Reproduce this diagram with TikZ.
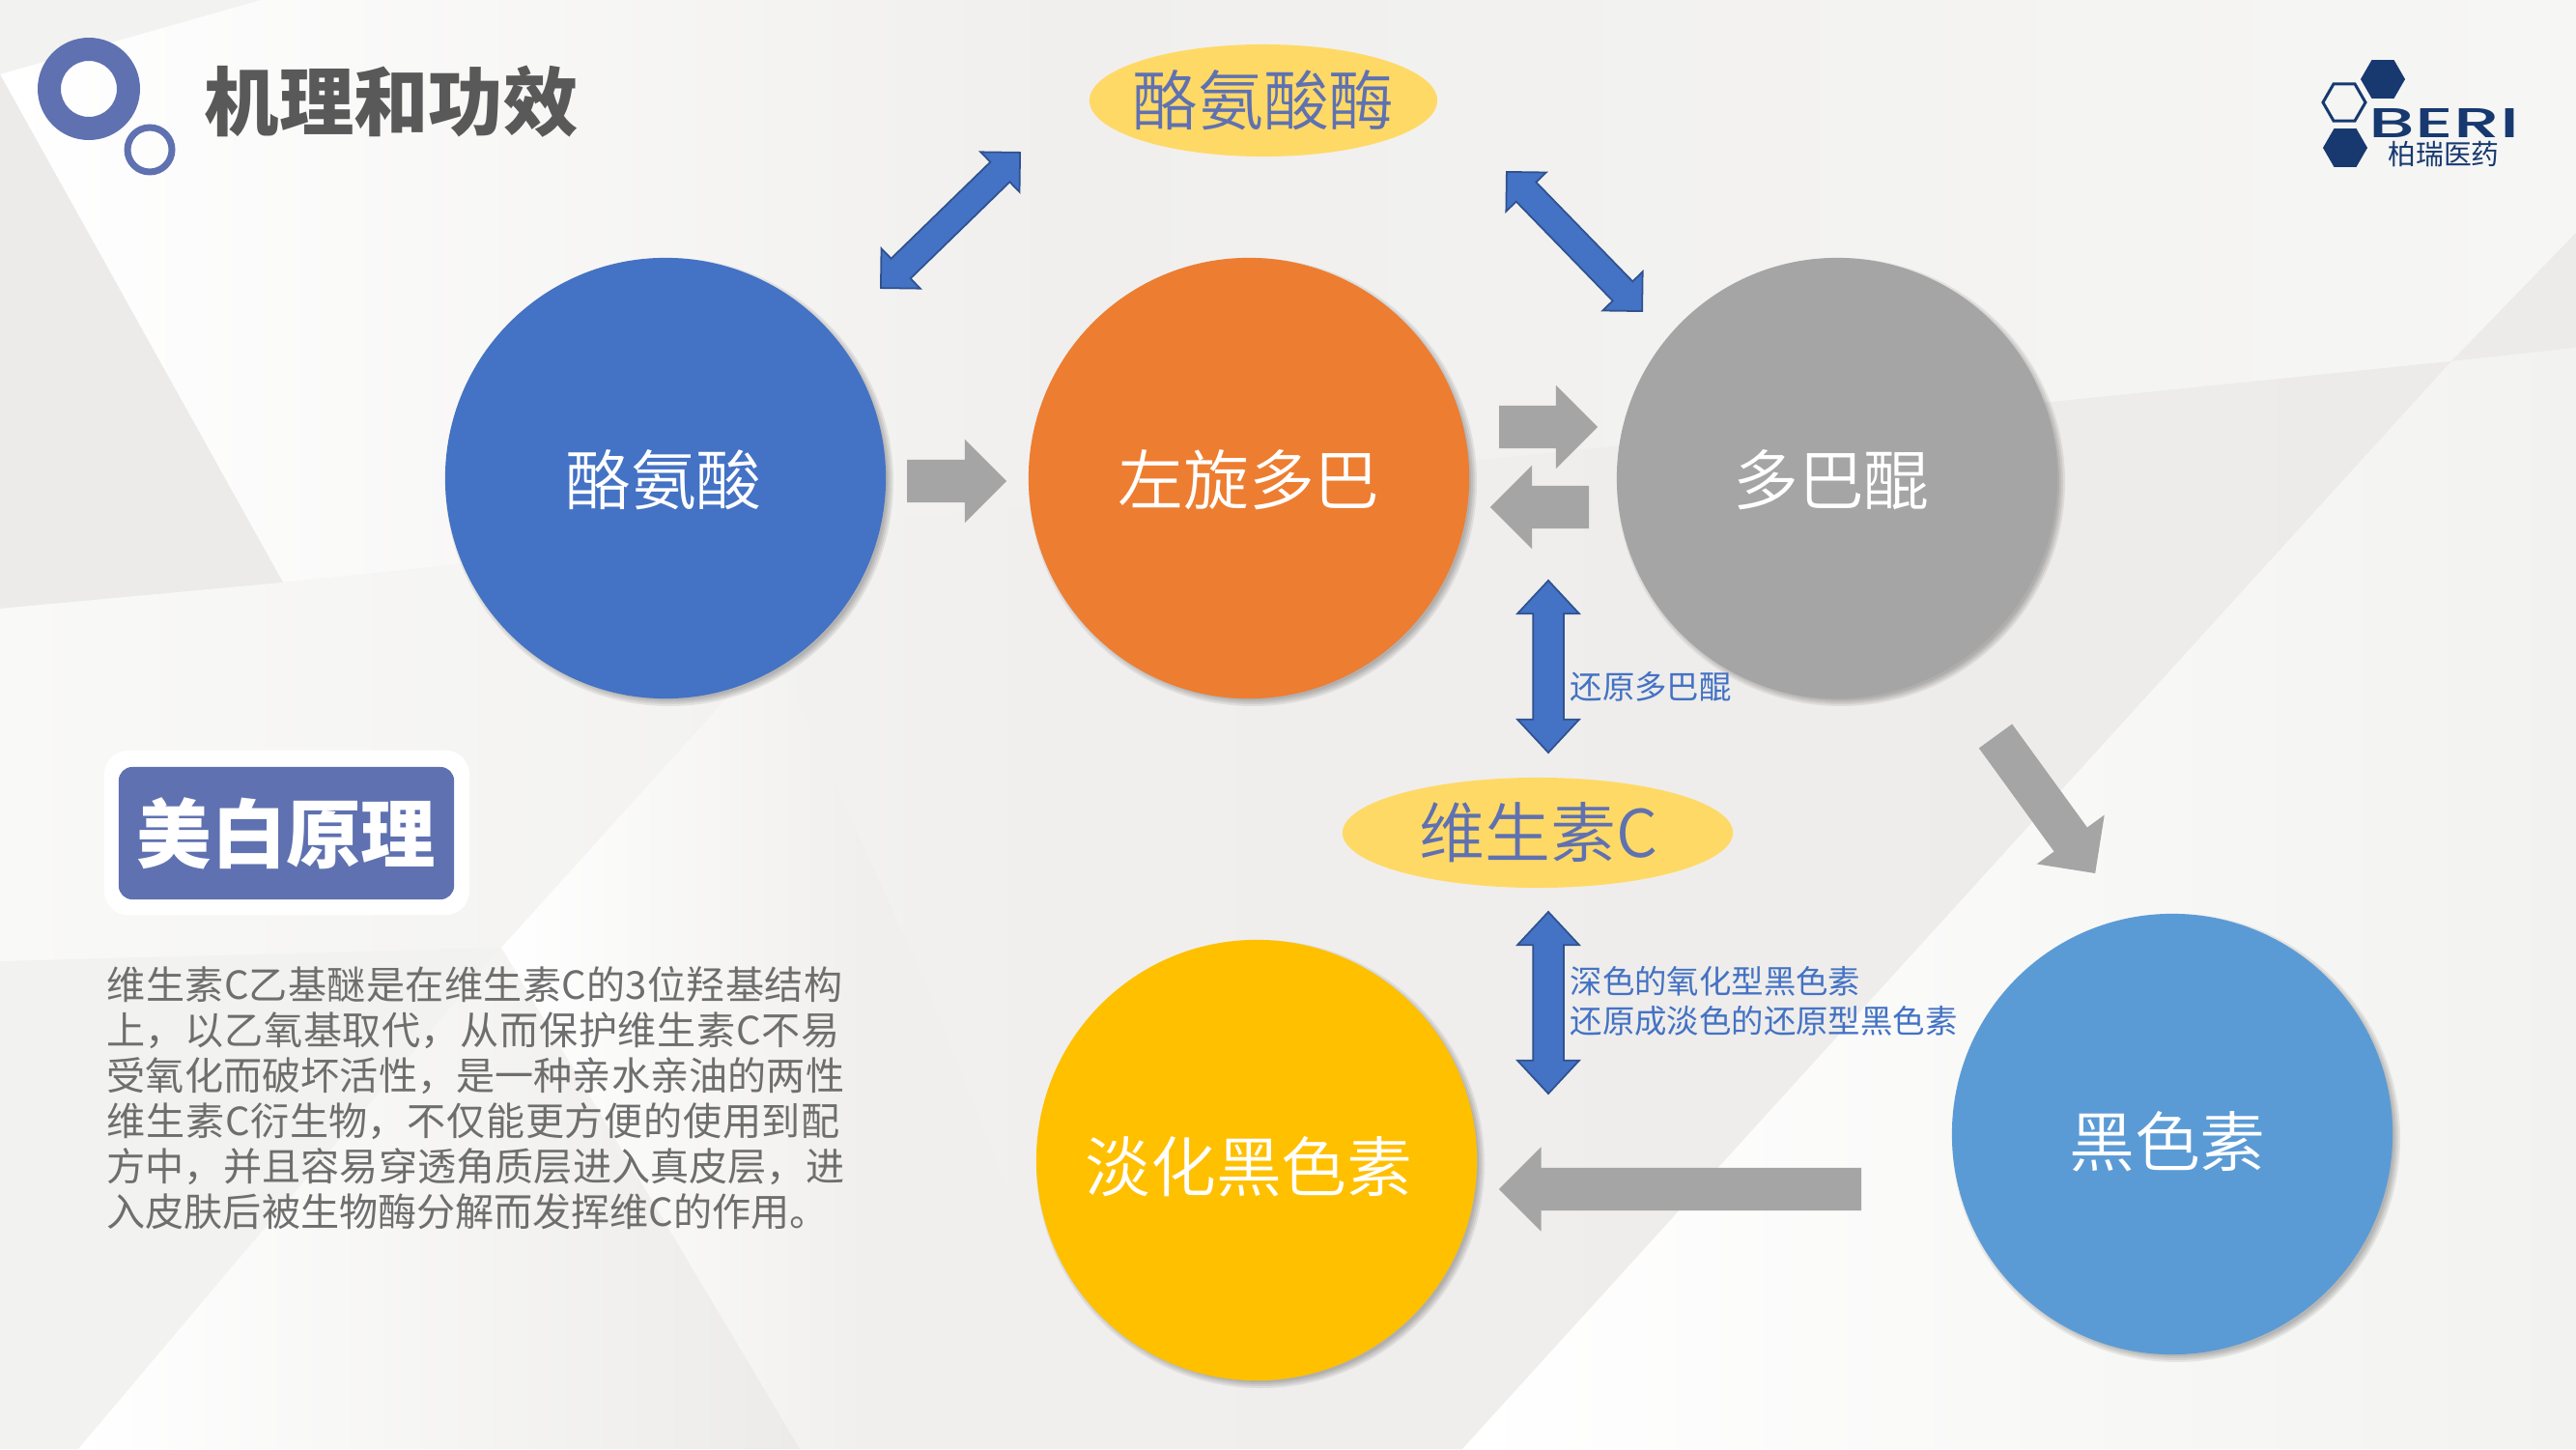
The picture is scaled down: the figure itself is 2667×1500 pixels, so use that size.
\documentclass[tikz,border=0pt]{standalone}
\usepackage{fontspec}
\usepackage{graphicx}
\usetikzlibrary{shapes.arrows,shapes.geometric}
\setmainfont{Noto Sans CJK SC}
\newfontfamily\cjkblack{Noto Sans CJK SC Black}
\newfontfamily\cjkthin{Noto Sans CJK SC DemiLight}
\newfontfamily\logofont{Poppins Medium}
\definecolor{ringblue}{HTML}{5F71B0}
\definecolor{arrowblue}{HTML}{4472C4}
\definecolor{arrowedge}{HTML}{2F528F}
\definecolor{arrowgray}{HTML}{A5A5A5}
\definecolor{ellipseyellow}{HTML}{FFD966}
\definecolor{navy}{HTML}{17396F}
\definecolor{bodygray}{HTML}{6E6E6E}
\definecolor{titlegray}{HTML}{595959}
\definecolor{bgA}{HTML}{F0EFED}
\definecolor{bgB}{HTML}{ECEBE9}
\definecolor{bgC}{HTML}{F6F6F5}
\definecolor{bgD}{HTML}{F9F9F8}
\definecolor{bgE}{HTML}{F2F2F0}
\pgfdeclarehorizontalshading{regionc}{100bp}{color(0bp)=(white); color(25bp)=(white); color(55bp)=(bgA); color(100bp)=(bgA)}
\tikzset{
  bigtext/.style={font=\cjkthin\fontsize{19.3}{23}\selectfont,inner sep=0pt},
  disc/.style={circle,minimum size=4.56cm,inner sep=0pt,outer sep=0pt},
  oval/.style={ellipse,inner sep=0pt,outer sep=0pt,fill=ellipseyellow},
  grayarrow/.style n args={3}{single arrow,fill=arrowgray,draw=none,inner sep=0pt,outer sep=0pt,
     minimum height=#1cm,text height=#2cm,text depth=0pt,text width=0pt,
     single arrow head extend=#3cm,single arrow tip angle=90,anchor=tail},
  bluearrow/.style n args={4}{double arrow,fill=arrowblue,draw=arrowedge,line width=0.5pt,inner sep=0pt,outer sep=0pt,
     minimum height=#1cm,text height=#2cm,text depth=0pt,text width=0pt,
     double arrow head extend=#3cm,double arrow tip angle=#4,anchor=center},
  bluelabel/.style={text=arrowblue,font=\fontsize{9.5}{11.6}\selectfont,inner sep=0pt,anchor=west,align=left},
  hex/.style={regular polygon,regular polygon sides=6,minimum size=0.46cm,inner sep=0pt,outer sep=0pt},
  shadowlayer/.style={fill=black,opacity=0.07,draw=none},
}
\newcommand{\discshadow}[2]{%
  \foreach \r in {232,230,228,226}{\fill[shadowlayer] (#1+4,#2+4) circle [radius=\r];}}
\XeTeXlinebreaklocale "zh"
\XeTeXlinebreakskip=0pt plus 3pt
\begin{document}
\begin{tikzpicture}[x=0.01cm,y=-0.01cm]
\useasboundingbox (0,0) rectangle (2667,1500);
% background facets
\fill[bgE] (0,0) rectangle (2667,1500);
\shade[left color=white,right color=bgA]
   (0,77) -- (270,0) -- (1100,0) -- (1100,520) -- (293,603) -- cycle;
\shade[left color=bgA,right color=bgC]
   (1100,0) -- (2667,0) -- (2667,241) -- (2538,374) -- (1100,520) -- cycle;
\fill[bgB] (0,77) -- (293,603) -- (0,630) -- cycle;
\shade[left color=bgD,right color=bgA]
   (0,630) -- (293,603) -- (1100,520) -- (1100,1500) -- (828,1500) -- (519,981) -- (0,995) -- cycle;
\shade[left color=bgA,right color=bgB]
   (1100,520) -- (2538,374) -- (1514,1500) -- (1100,1500) -- cycle;
\shade[shading=regionc]
   (519,981) -- (800,670) -- (950,1000) -- (1150,1500) -- (828,1500) -- cycle;
\shade[left color=white,right color=bgB]
   (81,1500) -- (519,981) -- (828,1500) -- cycle;
\fill[bgB] (2538,374) -- (2667,241) -- (2667,360) -- cycle;
\shade[left color=white,middle color=white,right color=bgE]
   (2538,374) -- (2667,360) -- (2667,1500) -- (1514,1500) -- cycle;
% top ellipse
\node[oval,minimum width=3.6cm,minimum height=1.16cm] (enzyme) at (1308,104) {};
\node[bigtext,text=ringblue] (enzymet) at (1308,104) {酪氨酸酶};
% discs
\discshadow{689}{495}\discshadow{1293}{495}\discshadow{1902}{495}\discshadow{2249}{1174}\discshadow{1301}{1201}
\node[disc,fill=arrowblue] (tyr) at (689,495) {};
\node[disc,fill={rgb,255:red,237;green,125;blue,49}] (dopa) at (1293,495) {};
\node[disc,fill=arrowgray] (quin) at (1902,495) {};
\node[disc,fill={rgb,255:red,91;green,155;blue,213}] (mel) at (2249,1174) {};
\node[disc,fill={rgb,255:red,255;green,192;blue,0}] (light) at (1301,1201) {};
\node[bigtext,text=white] (tyrt) at (687,497) {酪氨酸};
\node[bigtext,text=white] (dopat) at (1293,497) {左旋多巴};
\node[bigtext,text=white] (quint) at (1896,497) {多巴醌};
\node[bigtext,text=white] (melt) at (2244,1182) {黑色素};
\node[bigtext,text=white] (lightt) at (1293,1208) {淡化黑色素};
\node[oval,minimum width=4.04cm,minimum height=1.14cm] (vitc) at (1592,862) {};
\node[bigtext,text=ringblue] (vitct) at (1593,862) {维生素C};
% gray block arrows
\node[grayarrow={1.03}{0.43}{0.21}] (a1) at (939,498) {};
\node[grayarrow={1.02}{0.43}{0.21}] (a2) at (1552,442) {};
\node[grayarrow={1.02}{0.43}{0.21},rotate=180] (a3) at (1645,525) {};
\node[grayarrow={1.754}{0.41}{0.22},rotate=-54] (a4) at (2066,762) {};
\node[grayarrow={3.75}{0.43}{0.215},rotate=180] (a5) at (1927,1231) {};
% blue double arrows
\node[bluearrow={2.01}{0.27}{0.145}{90},rotate=44.2] (d1) at (984,228) {};
\node[bluearrow={2.01}{0.27}{0.145}{90},rotate=-45.8] (d2) at (1630,250) {};
\node[bluearrow={1.78}{0.30}{0.16}{86},rotate=90] (d3) at (1603,690) {};
\node[bluearrow={1.88}{0.30}{0.16}{86},rotate=90] (d4) at (1603,1038) {};
\node[bluelabel] (l1) at (1625,711) {还原多巴醌};
\node[bluelabel] (l2) at (1625,1036) {深色的氧化型黑色素\\还原成淡色的还原型黑色素};
% title
\fill[ringblue,even odd rule] (92,92) circle [radius=53] (92,92) circle [radius=29];
\fill[ringblue,even odd rule] (155,155) circle [radius=26.5] (155,155) circle [radius=19.5];
\node[font=\cjkblack\fontsize{22}{26}\selectfont,text=titlegray,inner sep=0pt,anchor=west] (title) at (211,105) {机理和功效};
% badge
\node[rounded corners=0.25cm,fill=white,minimum width=3.78cm,minimum height=1.705cm,inner sep=0pt] (badgeouter) at (297,862) {};
\node[rounded corners=0.14cm,fill=ringblue,minimum width=3.47cm,minimum height=1.37cm,inner sep=0pt,text=white,font=\cjkblack\fontsize{22}{26}\selectfont] (badge) at (296.5,862.5) {美白原理};
% body
\node[text=bodygray,font=\fontsize{11.4}{13.35}\selectfont,inner sep=0pt,anchor=north west,text width=7.64cm] (body) at (110,1000) {%
\parindent=0pt\parfillskip=0pt
维生素C乙基醚是在维生素C的3位羟基结构\par
上，以乙氧基取代，从而保护维生素C不易\par
受氧化而破坏活性，是一种亲水亲油的两性\par
维生素C衍生物，不仅能更方便的使用到配\par
方中，并且容易穿透角质层进入真皮层，进\par
\parfillskip=0pt plus 1fil
入皮肤后被生物酶分解而发挥维C的作用。\par};
% logo
\node[hex,fill=navy] (h1) at (2467,82) {};
\node[hex,draw=navy,line width=0.85pt,minimum size=0.44cm] (h2) at (2427,106) {};
\node[hex,fill=navy] (h3) at (2428,153) {};
\node[text=navy,inner sep=0pt] (beri) at (2531,127) {\resizebox{1.56cm}{0.30cm}{\logofont BERI}};
\node[text=navy,inner sep=0pt,font=\fontsize{8.2}{10}\selectfont,text height=0.22cm,text depth=0.04cm] (cn) at (2530,161.5) {柏瑞医药};
\end{tikzpicture}
\end{document}
